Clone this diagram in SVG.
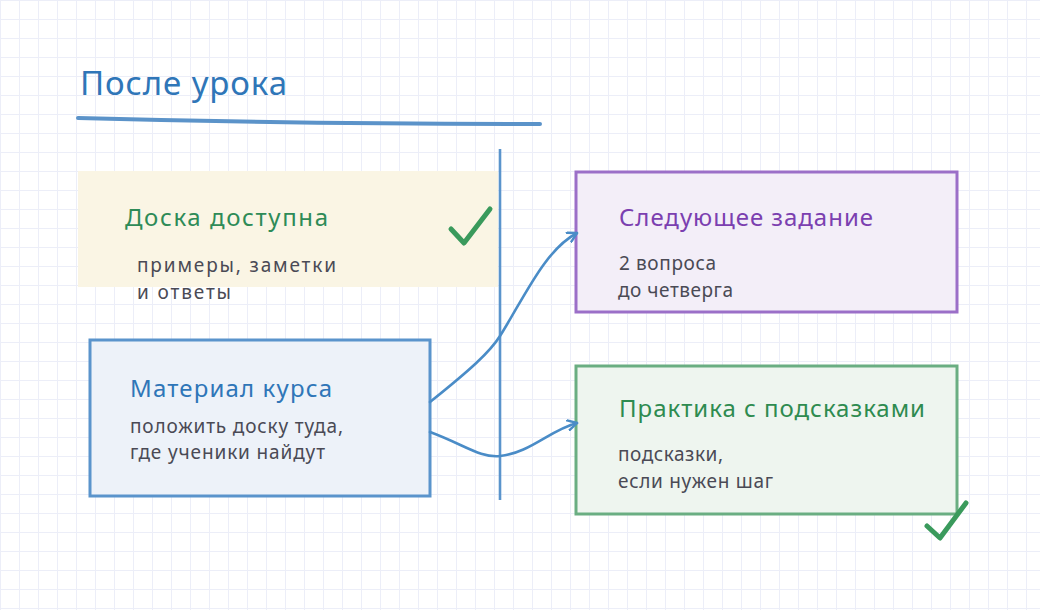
<svg xmlns="http://www.w3.org/2000/svg" width="1040" height="610" viewBox="0 0 1040 610">
<defs>
<pattern id="grid" width="19" height="19" patternUnits="userSpaceOnUse">
<path d="M0 0 H19 M0 0 V19" fill="none" stroke="#eceef8" stroke-width="2"/>
</pattern>
<marker id="arr" viewBox="0 0 12 12" refX="10" refY="6" markerWidth="12" markerHeight="12" markerUnits="userSpaceOnUse" orient="auto">
<path d="M1 1 L10 6 L1 11" fill="none" stroke="#4a8cc7" stroke-width="2.4" stroke-linecap="round" stroke-linejoin="round"/>
</marker>
</defs>
<style>
text{font-family:"Noto Sans","DejaVu Sans",sans-serif}
.h{font-size:24px}
.b{font-size:19px;fill:#4a4a55}
.box{stroke-width:3}
.conn{fill:none;stroke:#4a8cc7;stroke-width:2.6;stroke-linecap:round}
.check{fill:none;stroke:#3a9a5c;stroke-width:5;stroke-linecap:round;stroke-linejoin:round}
</style>
<rect width="1040" height="610" fill="#ffffff"/>
<rect width="1040" height="610" fill="url(#grid)"/>

<g id="title">
<text x="80" y="95" font-size="33" fill="#2f76b8" textLength="207" lengthAdjust="spacing">После урока</text>
<path d="M78 118 Q300 124 540 124" fill="none" stroke="#5b93c9" stroke-width="4" stroke-linecap="round"/>
</g>

<g id="divider">
<line x1="500" y1="149" x2="500" y2="500" stroke="#5a94cc" stroke-width="2.6"/>
</g>

<g id="node-board">
<rect x="78" y="171" width="420" height="116" fill="#faf5e4"/>
<text class="h" x="125" y="226" fill="#2e8b57" textLength="203" lengthAdjust="spacing">Доска доступна</text>
<text class="b" x="137" y="272" textLength="199" lengthAdjust="spacing">примеры, заметки</text>
<text class="b" x="137" y="299" textLength="94" lengthAdjust="spacing">и ответы</text>
<path class="check" d="M451 229 L464 243 L490 209"/>
</g>

<g id="node-next">
<rect class="box" x="576" y="172" width="381" height="140" fill="#f3eef8" stroke="#9b6fc8"/>
<text class="h" x="619" y="226" fill="#7b3fb0" textLength="254" lengthAdjust="spacing">Следующее задание</text>
<text class="b" x="619" y="270" textLength="97" lengthAdjust="spacing">2 вопроса</text>
<text class="b" x="618" y="297" textLength="115" lengthAdjust="spacing">до четверга</text>
</g>

<g id="node-course">
<rect class="box" x="90" y="340" width="340" height="156" fill="#edf2f9" stroke="#5a94cc"/>
<text class="h" x="130" y="397" fill="#2f76b8" textLength="202" lengthAdjust="spacing">Материал курса</text>
<text class="b" x="130" y="433" textLength="213" lengthAdjust="spacing">положить доску туда,</text>
<text class="b" x="130" y="459" textLength="195" lengthAdjust="spacing">где ученики найдут</text>
</g>

<g id="node-practice">
<rect class="box" x="576" y="366" width="381" height="148" fill="#eef5ef" stroke="#6aae82"/>
<text class="h" x="619" y="417" fill="#2e8b50" textLength="306" lengthAdjust="spacing">Практика с подсказками</text>
<text class="b" x="618" y="461" textLength="105" lengthAdjust="spacing">подсказки,</text>
<text class="b" x="618" y="488" textLength="155" lengthAdjust="spacing">если нужен шаг</text>
<path class="check" d="M927 526 L940 538 L966 503"/>
</g>

<g id="connectors">
<path class="conn" d="M430 402 C470 370 490 352 500 336 C525 296 545 250 577 233" marker-end="url(#arr)"/>
<path class="conn" d="M430 432 C465 445 480 458 500 456 C530 453 550 430 577 423" marker-end="url(#arr)"/>
</g>
</svg>
